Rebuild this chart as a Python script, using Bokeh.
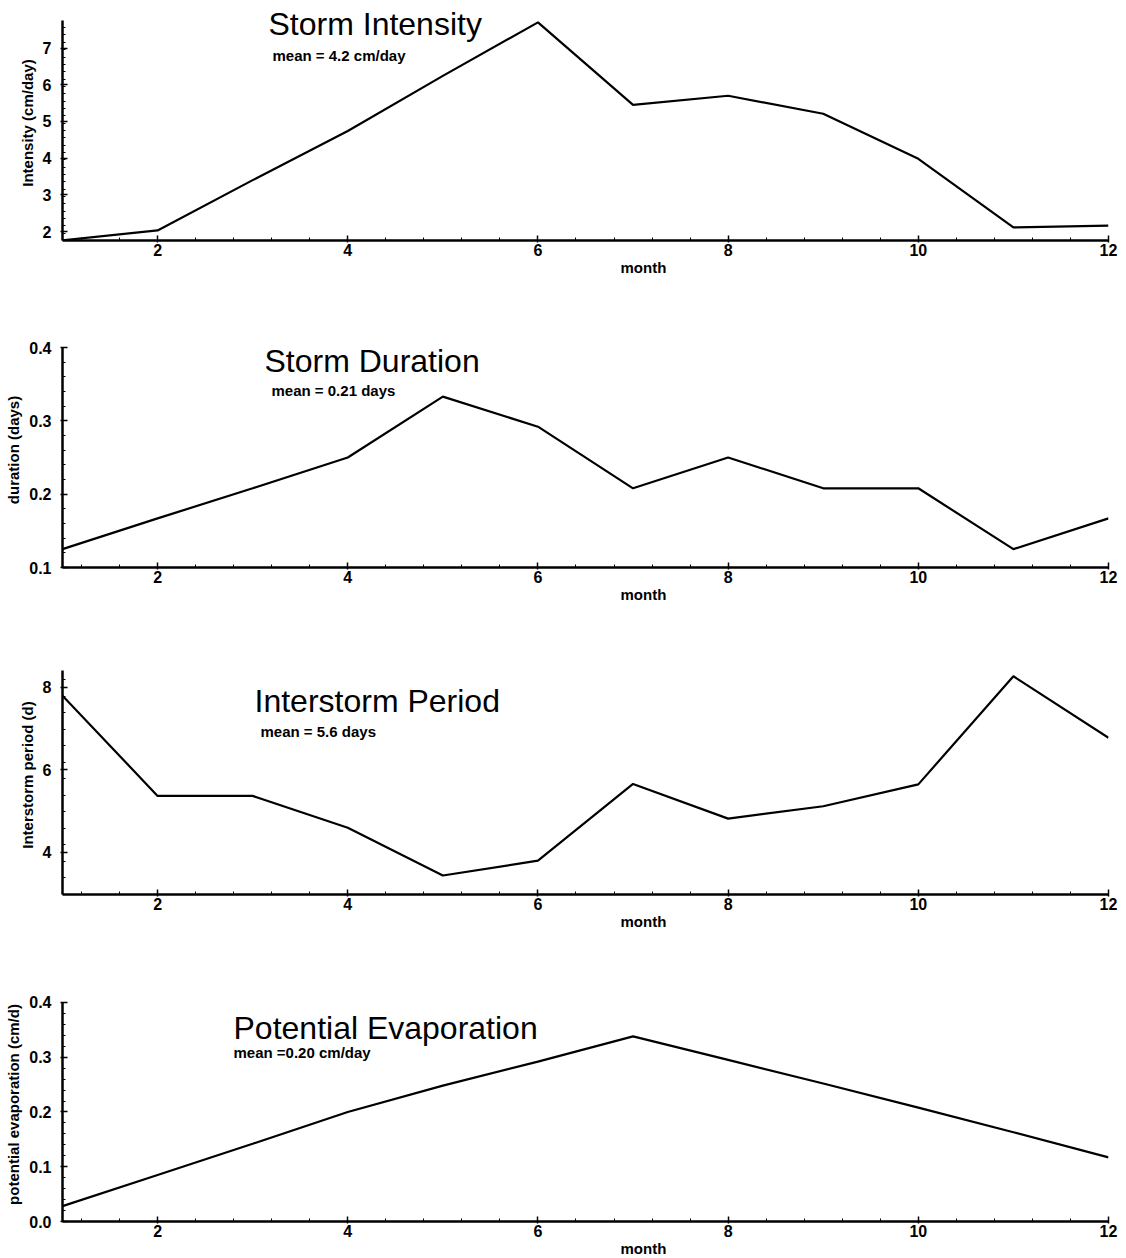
import numpy as np
from bokeh.plotting import figure
from bokeh.layouts import column
from bokeh.models import FixedTicker, PrintfTickFormatter, Label, Title
from bokeh.embed import file_html
from bokeh.resources import INLINE

months = [1, 2, 3, 4, 5, 6, 7, 8, 9, 10, 11, 12]
intensity = [1.76, 2.03, 3.40, 4.74, 6.24, 7.70, 5.45, 5.70, 5.21, 3.98, 2.11, 2.16]
duration = [0.125, 0.167, 0.208, 0.250, 0.333, 0.292, 0.208, 0.250, 0.208, 0.208, 0.125, 0.167]
interstorm = [7.80, 5.37, 5.37, 4.60, 3.44, 3.80, 5.66, 4.82, 5.12, 5.65, 8.27, 6.78]
evaporation = [0.028, 0.085, 0.142, 0.200, 0.248, 0.292, 0.338, 0.295, 0.252, 0.208, 0.163, 0.117]

x_ticks = [2, 4, 6, 8, 10, 12]

FONT = "Liberation Sans"

panels = [
    dict(y=intensity, title="Storm Intensity", mean="mean = 4.2 cm/day",
         ylabel="Intensity (cm/day)", yr=(1.755, 7.75), yt=[2, 3, 4, 5, 6, 7], ystep=0.2, fmt=None,
         top=20, fh=220, h=327, tx=268, toff=3, mx=272, moff=35),
    dict(y=duration, title="Storm Duration", mean="mean = 0.21 days",
         ylabel="duration (days)", yr=(0.1, 0.4), yt=[0.1, 0.2, 0.3, 0.4], ystep=0.02, fmt="%.1f",
         top=20, fh=220, h=327, tx=264, toff=13, mx=271, moff=43),
    dict(y=interstorm, title="Interstorm Period", mean="mean = 5.6 days",
         ylabel="Interstorm period (d)", yr=(2.98, 8.41), yt=[4, 6, 8], ystep=0.4, fmt=None,
         top=16, fh=224, h=327, tx=254, toff=30, mx=260, moff=61),
    dict(y=evaporation, title="Potential Evaporation", mean="mean =0.20 cm/day",
         ylabel="potential evaporation (cm/d)", yr=(0.0, 0.4), yt=[0.0, 0.1, 0.2, 0.3, 0.4], ystep=0.02, fmt="%.1f",
         top=21, fh=220, h=277, tx=233, toff=26, mx=233, moff=50),
]

LEFT, RIGHT, W = 62, 18, 1126
FW = W - LEFT - RIGHT
xmin, xmax = 1, 12
HEAD = 15  # extra frame space above the axis top (axis is bounded)
MONTH_X = 643
MONTH_W = 46


def px_to_x(px):
    return xmin + (px - LEFT) * (xmax - xmin) / FW


figs = []
for pnl in panels:
    y0, y1 = pnl["yr"]
    fh = pnl["fh"]

    def off_to_y(off, y0=y0, y1=y1, fh=fh):
        return y1 - off * (y1 - y0) / fh

    y_end = off_to_y(-HEAD)
    p = figure(width=W, height=pnl["h"], x_range=(xmin, xmax), y_range=(y0, y_end),
               output_backend="svg", toolbar_location=None,
               min_border_left=LEFT, min_border_right=RIGHT,
               min_border_top=pnl["top"] - HEAD, min_border_bottom=pnl["h"] - pnl["top"] - fh)
    p.outline_line_color = None
    p.xgrid.visible = False
    p.ygrid.visible = False
    p.background_fill_color = "white"
    p.border_fill_color = "white"

    p.line(months, pnl["y"], line_color="black", line_width=2.2)

    # x axis
    xa = p.xaxis[0]
    xa.ticker = FixedTicker(ticks=x_ticks, minor_ticks=list(np.round(np.arange(1.2, 12.0, 0.4), 2)))
    xa.axis_line_width = 2.5
    xa.major_tick_in = 5
    xa.major_tick_out = 2
    xa.minor_tick_in = 3
    xa.minor_tick_out = 0
    xa.major_tick_line_width = 1.5
    xa.major_label_standoff = 1
    xa.major_label_text_font = FONT
    xa.major_label_text_font_style = "bold"
    xa.major_label_text_font_size = "16px"
    xa.major_label_text_color = "black"

    # y axis
    ya = p.yaxis[0]
    ya.bounds = (y0, y1)
    ymin_ticks = list(np.round(np.arange(y0, y1 + 1e-9, pnl["ystep"]), 3))
    ya.ticker = FixedTicker(ticks=pnl["yt"], minor_ticks=ymin_ticks)
    if pnl["fmt"]:
        ya.formatter = PrintfTickFormatter(format=pnl["fmt"])
    ya.axis_line_width = 2.5
    ya.major_tick_in = 5
    ya.major_tick_out = 2
    ya.minor_tick_in = 3
    ya.minor_tick_out = 0
    ya.major_tick_line_width = 1.5
    ya.major_label_standoff = 9
    ya.major_label_text_font = FONT
    ya.major_label_text_font_style = "bold"
    ya.major_label_text_font_size = "16px"
    ya.major_label_text_color = "black"
    ya.axis_label = pnl["ylabel"]
    ya.axis_label_standoff = 4
    ya.axis_label_text_font = FONT
    ya.axis_label_text_font_style = "bold"
    ya.axis_label_text_font_size = "15px"
    ya.axis_label_text_color = "black"

    p.add_layout(Label(x=px_to_x(pnl["tx"]), y=off_to_y(pnl["toff"]), text=pnl["title"],
                       text_font=FONT, text_font_size="32px", text_color="black",
                       text_baseline="alphabetic", text_align="left"))
    p.add_layout(Label(x=px_to_x(pnl["mx"]), y=off_to_y(pnl["moff"]), text=pnl["mean"],
                       text_font=FONT, text_font_style="bold", text_font_size="15px",
                       text_color="black", text_baseline="alphabetic", text_align="left"))
    p.add_layout(Title(text="month", align="left", offset=MONTH_X - MONTH_W // 2 - LEFT, standoff=0,
                       vertical_align="top", text_line_height=1.0,
                       text_font=FONT, text_font_style="bold", text_font_size="15px",
                       text_color="black"), "below")
    figs.append(p)

layout = column(*figs, spacing=0)
open("out.html", "w").write(file_html(layout, INLINE))
